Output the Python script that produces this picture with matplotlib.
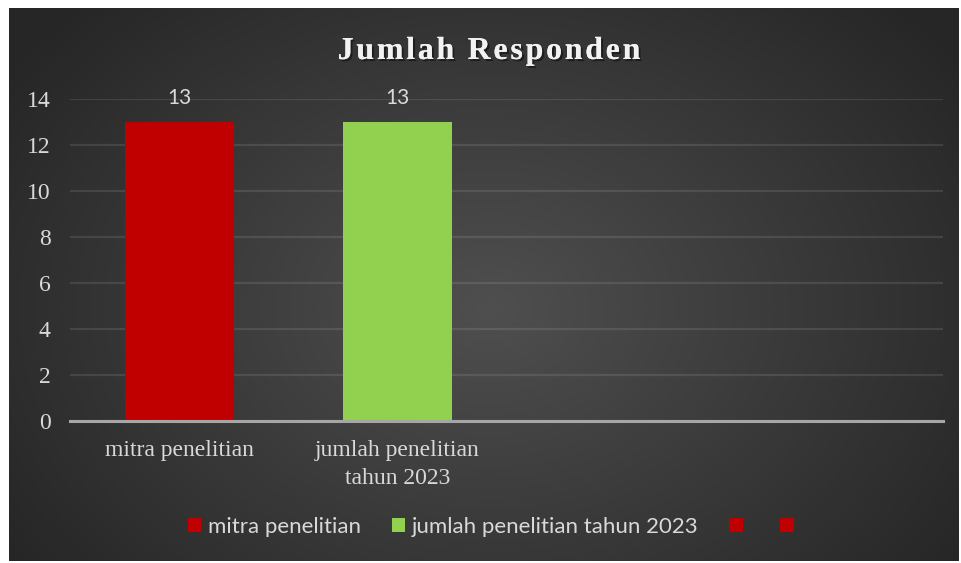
import numpy as np
import matplotlib
matplotlib.use("Agg")
import matplotlib.pyplot as plt
import matplotlib.patheffects as pe
from matplotlib.patches import Patch

categories = ["mitra penelitian", "jumlah penelitian\ntahun 2023", "", ""]
legend_labels = ["mitra penelitian", "jumlah penelitian tahun 2023", "", ""]
values = [13, 13, np.nan, np.nan]
colors = ["#c00000", "#92d050", "#c00000", "#c00000"]
yticks = [0, 2, 4, 6, 8, 10, 12, 14]
title = "Jumlah Responden"

W, H = 961, 563
fig = plt.figure(figsize=(W / 100, H / 100), dpi=100)
fig.patch.set_facecolor("white")

# radial gradient background of the chart area
bg = fig.add_axes([9 / W, 2 / H, 950 / W, 553 / H])
bg.set_axis_off()
yy, xx = np.mgrid[0:553, 0:950]
r = np.sqrt(((xx - 480) / 580) ** 2 + ((yy - 300) / 430) ** 2)
shade = np.clip(0.31 - 0.16 * r, 0.15, 0.31)
bg.imshow(np.dstack([shade] * 3), aspect="auto", interpolation="bilinear")

ax = fig.add_axes([70 / W, 142 / H, 873 / W, 322 / H])
ax.patch.set_alpha(0)
x = np.arange(len(categories))
bars = ax.bar(x, values, width=0.5, color=colors, zorder=3)
ax.bar_label(bars, labels=[f"{v:g}" if not np.isnan(v) else "" for v in values],
             padding=10, color="#d9d9d9", fontsize=15, family="Lato")

ax.set_xlim(-0.5, len(categories) - 0.5)
ax.set_ylim(0, 14)
ax.set_yticks(yticks)
ax.set_xticks(x)
ax.set_xticklabels(categories, family="Liberation Serif", fontsize=17,
                   color="#d9d9d9", linespacing=1.4)
ax.set_yticklabels([str(t) for t in yticks], family="Liberation Serif",
                   fontsize=17, color="#d9d9d9")
ax.tick_params(length=0, axis="y", pad=14)
ax.tick_params(length=0, axis="x", pad=14)
ax.grid(axis="y", color="white", alpha=0.1, linewidth=1.6, zorder=0)
for s in ["top", "right", "left"]:
    ax.spines[s].set_visible(False)
ax.spines["bottom"].set_color("#a6a6a6")
ax.spines["bottom"].set_linewidth(2.2)
ax.spines["bottom"].set_zorder(4)

# title with letter spacing, one character at a time
renderer = fig.canvas.get_renderer()
tkw = dict(family="Liberation Serif", fontweight="bold", fontsize=23,
           color="#f2f2f2", va="baseline", ha="left",
           path_effects=[pe.withSimplePatchShadow(offset=(1.5, -1.5),
                                                  shadow_rgbFace="black", alpha=0.45),
                         pe.Normal()])


def text_w(s):
    t = fig.text(0, 0, s, **tkw)
    w = t.get_window_extent(renderer).width
    t.remove()
    return w


spacing = 2.7
total = text_w(title) + spacing * (len(title) - 1)
x0 = 489 - total / 2
base_y = H - 59
for i, ch in enumerate(title):
    if ch == " ":
        continue
    left = text_w(title[:i + 1]) - text_w(ch) + spacing * i
    fig.text((x0 + left) / W, base_y / H, ch, **tkw)

handles = [Patch(facecolor=c) for c in colors]
leg = fig.legend(handles, legend_labels, loc="center",
                 bbox_to_anchor=(494 / W, (H - 527) / H), ncol=4, frameon=False,
                 prop={"family": "Lato", "size": 16}, handlelength=0.6,
                 handleheight=0.6, handletextpad=0.3, columnspacing=1.4)
for t in leg.get_texts():
    t.set_color("#d9d9d9")

fig.savefig("out.png", dpi=100)
